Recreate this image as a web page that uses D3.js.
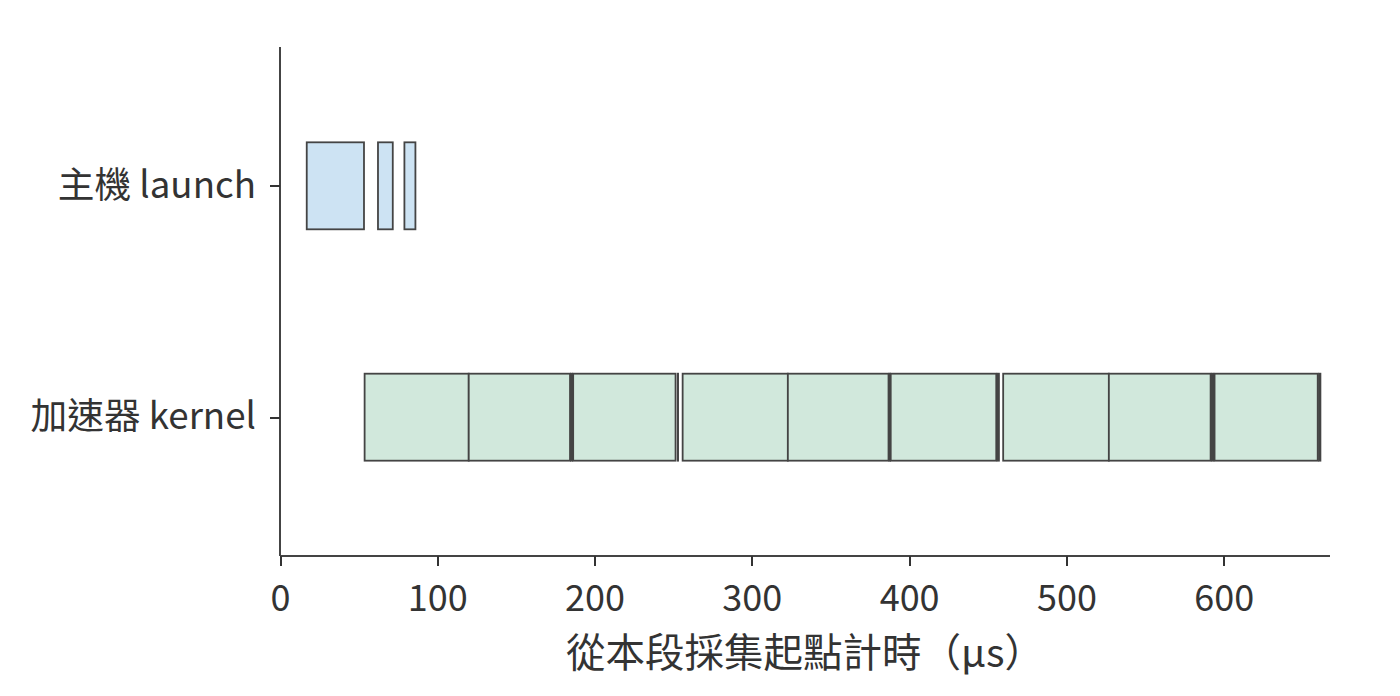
<!DOCTYPE html>
<html>
<head>
<meta charset="utf-8">
<script src="https://cdn.jsdelivr.net/npm/d3@7"></script>
<style>
  html, body { margin: 0; padding: 0; background: #fff; }
  svg { display: block; }
  text { font-family: "Noto Sans CJK TC", "Noto Sans", sans-serif; fill: #333; }
</style>
</head>
<body>
<svg id="chart" width="1400" height="696"></svg>
<script>
// ---- data ----
const rows = ["主機 launch", "加速器 kernel"];
const rowPos = [1, 0];
const hostStarts = [17.0, 62.3, 79.1];
const hostEnds   = [53.4, 71.7, 86.1];
const kernelStarts = [53.8, 120.0, 185.0, 186.4, 252.9, 256.0, 322.9, 387.4, 388.3, 456.2, 459.8, 527.0, 592.4, 594.2, 660.6];
const kernelEnds   = [120.0, 184.4, 185.8, 251.5, 253.1, 322.9, 386.9, 387.9, 455.4, 457.1, 527.0, 591.7, 593.5, 659.8, 661.5];
const xTicks = [0, 100, 200, 300, 400, 500, 600];
const xLabel = "從本段採集起點計時（μs）";
const xMax = 667.6;
const yDomain = [-0.6, 1.6];
const barHeight = 0.376;

// ---- layout ----
const svg = d3.select("#chart");
const mLeft = 280, mRight = 1330, mTop = 47, mBottom = 556;
const x = d3.scaleLinear().domain([0, xMax]).range([mLeft, mRight]);
const y = d3.scaleLinear().domain(yDomain).range([mBottom, mTop]);

const host = hostStarts.map((s, i) => ({ s, e: hostEnds[i] }));
const kern = kernelStarts.map((s, i) => ({ s, e: kernelEnds[i] }));

function drawBars(data, pos, fill) {
  svg.append("g").selectAll("rect").data(data).join("rect")
    .attr("x", d => x(d.s))
    .attr("width", d => Math.max(0.01, x(d.e) - x(d.s)))
    .attr("y", y(pos + barHeight / 2))
    .attr("height", y(pos - barHeight / 2) - y(pos + barHeight / 2))
    .attr("fill", fill)
    .attr("stroke", "#444")
    .attr("stroke-width", 1.8);
}
drawBars(host, rowPos[0], "#cde3f3");
drawBars(kern, rowPos[1], "#d1e8dc");

// x axis
const xAxis = svg.append("g").attr("transform", `translate(0,${mBottom})`)
  .call(d3.axisBottom(x).tickValues(xTicks).tickSize(10).tickPadding(19).tickFormat(d3.format("d")));
xAxis.select(".domain").attr("stroke", "#444").attr("stroke-width", 2.2).attr("d", `M${mLeft},0H${mRight}`);
xAxis.selectAll(".tick line").attr("stroke", "#333").attr("stroke-width", 2);
xAxis.selectAll(".tick text").attr("font-size", 36).style("fill", "#333");

// y axis
const yAxis = svg.append("g").attr("transform", `translate(${mLeft},0)`)
  .call(d3.axisLeft(y).tickValues(rowPos).tickSize(10).tickPadding(14).tickFormat((d, i) => rows[i]));
yAxis.select(".domain").attr("stroke", "#444").attr("stroke-width", 2.2).attr("d", `M0,${mBottom}V${mTop}`);
yAxis.selectAll(".tick line").attr("stroke", "#333").attr("stroke-width", 2);
yAxis.selectAll(".tick text").attr("font-size", 36.7).style("fill", "#333");

svg.selectAll(".domain, .tick line").attr("shape-rendering", "crispEdges");

// x label
svg.append("text")
  .attr("x", (mLeft + mRight) / 2)
  .attr("y", 667)
  .attr("text-anchor", "middle")
  .attr("font-size", 39.5)
  .text(xLabel);
</script>
</body>
</html>
